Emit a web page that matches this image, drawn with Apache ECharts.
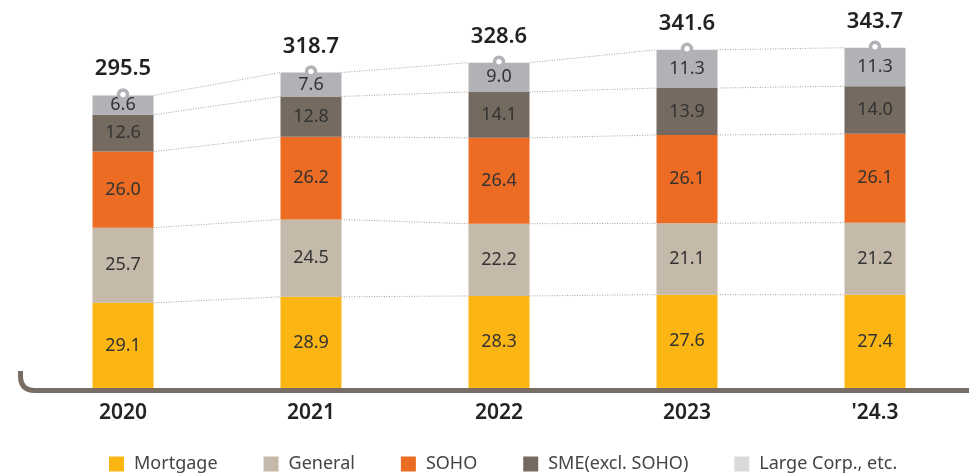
<!DOCTYPE html>
<html>
<head>
<meta charset="utf-8">
<script src="https://cdn.jsdelivr.net/npm/echarts@6/dist/echarts.min.js"></script>
<style>
  html, body { margin: 0; padding: 0; background: #fff; }
  #main { width: 969px; height: 474px; }
</style>
</head>
<body>
<div id="main"></div>
<script>
var years = ['2020', '2021', '2022', '2023', "'24.3"];
var totals = [295.5, 318.7, 328.6, 341.6, 343.7];
var mortgage = [29.1, 28.9, 28.3, 27.6, 27.4];
var general = [25.7, 24.5, 22.2, 21.1, 21.2];
var soho = [26.0, 26.2, 26.4, 26.1, 26.1];
var sme = [12.6, 12.8, 14.1, 13.9, 14.0];
var large = [6.6, 7.6, 9.0, 11.3, 11.3];

var names = ['Mortgage', 'General', 'SOHO', 'SME(excl. SOHO)', 'Large Corp., etc.'];
var shares = [mortgage, general, soho, sme, large];
var colors = ['#fbb613', '#c5b9aa', '#ec6c23', '#756a60', '#b1b2b6'];
var legendColors = ['#fbb613', '#c5b9aa', '#ec6c23', '#756a60', '#dadadd'];
var FONT = 'Noto Sans';

// cumulative boundaries (in amount) for each bar, used by the dotted connectors
var cum = totals.map(function (t, i) {
    var s = 0, out = [];
    for (var k = 0; k < shares.length; k++) {
        s += shares[k][i] * t / 100;
        out.push(s);
    }
    return out;
});

var chart = echarts.init(document.getElementById('main'));

var series = [];
for (var k = 0; k < shares.length; k++) {
    (function (k) {
        series.push({
            name: names[k],
            type: 'bar',
            stack: 'total',
            barWidth: 61,
            itemStyle: { color: colors[k] },
            label: {
                show: true,
                position: 'inside',
                color: '#333',
                fontFamily: FONT,
                fontSize: 18,
                formatter: function (p) { return shares[k][p.dataIndex].toFixed(1); }
            },
            data: totals.map(function (t, i) { return shares[k][i] * t / 100; })
        });
    })(k);
}

series.push({
    type: 'custom',
    silent: true,
    z: 1,
    renderItem: function (params, api) {
        var i = api.value(0);
        if (i >= years.length - 1) return null;
        var half = 61 / 2;
        var children = [];
        for (var k = 0; k < shares.length; k++) {
            var a = api.coord([i, cum[i][k]]);
            var b = api.coord([i + 1, cum[i + 1][k]]);
            children.push({
                type: 'line',
                shape: { x1: a[0] + half, y1: a[1], x2: b[0] - half, y2: b[1] },
                style: { stroke: '#aaa39b', lineWidth: 1, lineDash: [1, 1.5] }
            });
        }
        return { type: 'group', children: children };
    },
    data: [[0], [1], [2], [3], [4]]
});

series.push({
    type: 'scatter',
    symbol: 'circle',
    symbolSize: 9,
    symbolOffset: [0, -1],
    z: 5,
    itemStyle: { color: '#fff', borderColor: '#b1b2b6', borderWidth: 3.5, opacity: 1 },
    label: {
        show: true,
        position: 'top',
        distance: 8,
        color: '#222',
        fontFamily: FONT,
        fontSize: 22,
        fontWeight: 600,
        formatter: function (p) { return totals[p.dataIndex].toFixed(1); }
    },
    data: totals
});

// base line with rounded left corner
var axisStyle = { stroke: '#776d64', lineWidth: 5, fill: null };

var option = {
    animation: false,
    grid: { left: 29, top: 41.5, width: 945, height: 346.5 },
    xAxis: {
        type: 'category',
        data: years,
        axisLine: { show: false },
        axisTick: { show: false },
        axisLabel: {
            margin: 15,
            color: '#222',
            fontFamily: FONT,
            fontSize: 21,
            fontWeight: 600
        }
    },
    yAxis: {
        type: 'value',
        min: 0,
        max: 350,
        show: false
    },
    legend: {
        top: 450,
        left: 104,
        itemWidth: 15,
        itemHeight: 15,
        itemGap: 46,
        icon: 'rect',
        textStyle: { color: '#444', fontFamily: FONT, fontSize: 18, padding: [0, 0, 0, 5] },
        data: names.map(function (n, k) {
            return { name: n, itemStyle: { color: legendColors[k] } };
        })
    },
    graphic: [
        { type: 'line', silent: true, shape: { x1: 20.5, y1: 371, x2: 20.5, y2: 376 }, style: axisStyle },
        { type: 'bezierCurve', silent: true, shape: { x1: 20.5, y1: 376, cpx1: 20.5, cpy1: 390.5, x2: 35, y2: 390.5 }, style: axisStyle },
        { type: 'line', silent: true, shape: { x1: 35, y1: 390.5, x2: 969, y2: 390.5 }, style: axisStyle }
    ],
    series: series
};

chart.setOption(option);
</script>
</body>
</html>
